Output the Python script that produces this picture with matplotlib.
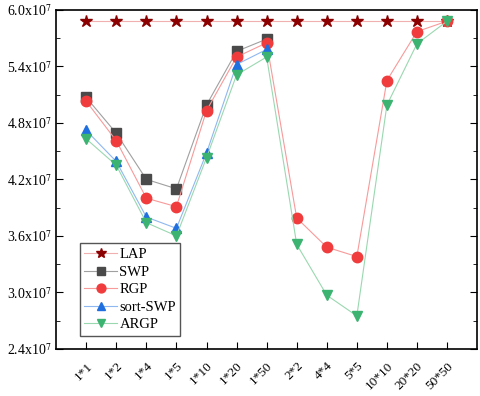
import matplotlib
matplotlib.use("Agg")
import matplotlib.pyplot as plt
from matplotlib.ticker import FuncFormatter, MultipleLocator, AutoMinorLocator

plt.rcParams['font.family'] = ['Liberation Serif', 'DejaVu Serif']
plt.rcParams['mathtext.fontset'] = 'stix'

categories = ['1*1', '1*2', '1*4', '1*5', '1*10', '1*20', '1*50',
              '2*2', '4*4', '5*5', '10*10', '20*20', '50*50']

# values in units of 1e7
lap = [5.88] * 13
swp = [5.07, 4.69, 4.20, 4.10, 4.99, 5.56, 5.69]
rgp = [5.03, 4.61, 4.00, 3.91, 4.93, 5.50, 5.65, 3.79, 3.48, 3.38, 5.25, 5.77, 5.88]
sort_swp = [4.72, 4.39, 3.80, 3.68, 4.48, 5.42, 5.58]
argp = [4.63, 4.35, 3.74, 3.60, 4.43, 5.31, 5.50, 3.51, 2.97, 2.75, 4.99, 5.64, 5.88]

series = [
    ('LAP', lap, '*', '#8b0000', '#f0b0b0', 9),
    ('SWP', swp, 's', '#4a4a4a', '#a0a0a0', 7),
    ('RGP', rgp, 'o', '#f03c3c', '#f89a9a', 7.5),
    ('sort-SWP', sort_swp, '^', '#1f6fe0', '#8fb8f0', 7.5),
    ('ARGP', argp, 'v', '#3cb371', '#9ad8b0', 7.5),
]

fig = plt.figure(figsize=(4.8, 3.96), dpi=100)
ax = fig.add_axes([0.117, 0.119, 0.877, 0.856])

for name, vals, mk, mc, lc, ms in series:
    x = list(range(len(vals)))
    y = [v * 1e7 for v in vals]
    ax.plot(x, y, color=lc, linewidth=0.8, marker=mk, markersize=ms,
            markerfacecolor=mc, markeredgecolor=mc, label=name)

ax.set_xlim(-1, 13)
ax.set_ylim(2.4e7, 6.0e7)
ax.set_xticks(range(len(categories)))
ax.set_xticklabels(categories, rotation=45, ha='right', rotation_mode='anchor', fontsize=9.5)
ax.tick_params(axis='x', direction='in', length=5, pad=8)
ax.yaxis.set_major_locator(MultipleLocator(0.6e7))
ax.yaxis.set_minor_locator(AutoMinorLocator(2))
ax.yaxis.set_major_formatter(FuncFormatter(lambda v, p: r"%.1fx10$^{7}$" % (v / 1e7)))
ax.tick_params(axis='y', which='both', direction='in', right=True, labelsize=10)
ax.tick_params(axis='y', which='major', length=5)
ax.tick_params(axis='y', which='minor', length=3)
for sp in ax.spines.values():
    sp.set_linewidth(1.2)

ax.legend(loc='lower left', bbox_to_anchor=(0.05, 0.03), fontsize=10.5, fancybox=False,
          edgecolor='#555555', framealpha=1, handlelength=2.2, handletextpad=0.2,
          borderpad=0.3, labelspacing=0.3, borderaxespad=0.2, markerscale=0.85)

fig.savefig('out.png', dpi=100)
